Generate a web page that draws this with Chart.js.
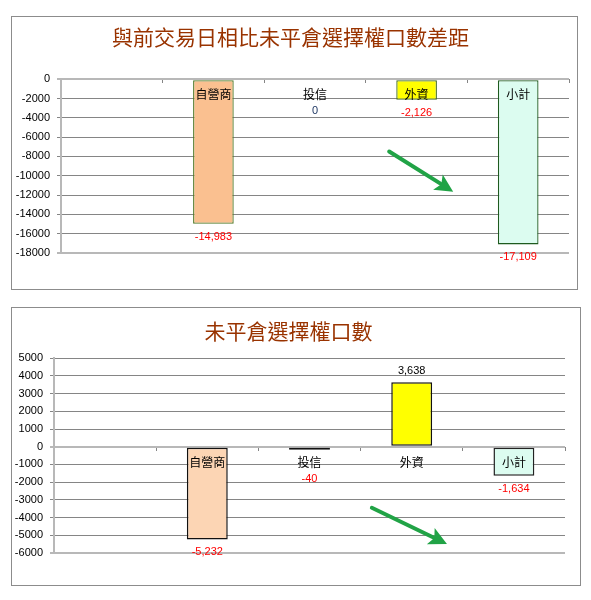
<!DOCTYPE html>
<html>
<head>
<meta charset="utf-8">
<script src="https://cdn.jsdelivr.net/npm/chart.js@4"></script>
<style>
body { margin: 0; background: #fff; }
.box { position: absolute; border: 1px solid #8c8c8c; background: #fff; }
#box1 { left: 11px; top: 16px; width: 565px; height: 272px; }
#box2 { left: 11px; top: 307px; width: 568px; height: 277px; }
</style>
</head>
<body>
<div class="box" id="box1"><canvas id="diffChart"></canvas></div>
<div class="box" id="box2"><canvas id="oiChart"></canvas></div>
<script>
// categories (first slot is blank in the original sheet)
let categories = ['', '自營商', '投信', '外資', '小計'];

// 與前交易日相比未平倉選擇權口數差距
let diffValues = [null, -14983, 0, -2126, -17109];
let diffRange = [-18000, 0, 2000]; // min, max, step

// 未平倉選擇權口數
let oiValues = [null, -5232, -40, 3638, -1634];
let oiRange = [-6000, 5000, 1000];

// red numbers under the bars (black above for positive)
let valueLabels = {
    id: 'valueLabels',
    afterDatasetsDraw(chart) {
        let ctx = chart.ctx;
        let meta = chart.getDatasetMeta(0);
        let values = chart.data.datasets[0].data;
        let zero = chart.scales.y.getPixelForValue(0);
        ctx.save();
        ctx.font = '11px "Liberation Sans", Arial, sans-serif';
        ctx.textAlign = 'center';
        ctx.textBaseline = 'middle';
        meta.data.forEach(function(bar, i) {
            let v = values[i];
            if (v === null) return;
            let y;
            if (v > 0) {
                y = bar.y - 11;
                ctx.fillStyle = '#000';
            } else {
                y = Math.max(bar.y + 13, zero + 32);
                ctx.fillStyle = v < 0 ? '#ff0000' : '#1f3864';
            }
            ctx.fillText(v.toLocaleString('en-US'), bar.x, y);
        });
        ctx.restore();
    }
};

// the green arrow, placed as a fraction of the plot area
function arrowPlugin(from, to) {
    return {
        id: 'arrow',
        afterDraw(chart) {
            let a = chart.chartArea, ctx = chart.ctx;
            let w = a.right - a.left, h = a.bottom - a.top;
            let x1 = a.left + from[0] * w, y1 = a.top + from[1] * h;
            let x2 = a.left + to[0] * w, y2 = a.top + to[1] * h;
            let ang = Math.atan2(y2 - y1, x2 - x1);
            let head = 18, half = 9;
            let bx = x2 - head * Math.cos(ang), by = y2 - head * Math.sin(ang);
            ctx.save();
            ctx.strokeStyle = '#21a346';
            ctx.fillStyle = '#21a346';
            ctx.lineWidth = 4;
            ctx.lineCap = 'round';
            ctx.beginPath();
            ctx.moveTo(x1, y1);
            ctx.lineTo(bx + 3 * Math.cos(ang), by + 3 * Math.sin(ang));
            ctx.stroke();
            ctx.beginPath();
            ctx.moveTo(x2, y2);
            ctx.lineTo(bx + half * Math.sin(ang), by - half * Math.cos(ang));
            ctx.lineTo(bx + 4 * Math.cos(ang), by + 4 * Math.sin(ang));
            ctx.lineTo(bx - half * Math.sin(ang), by + half * Math.cos(ang));
            ctx.closePath();
            ctx.fill();
            ctx.restore();
        }
    };
}

function makeChart(id, s) {
    let range = s.range;
    let lightLine = function(c) {
        return (c.tick.value === range[0] || c.tick.value === 0) ? '#b8b8b8' : '#858585';
    };
    return new Chart(document.getElementById(id), {
        type: 'bar',
        data: {
            labels: categories,
            datasets: [{
                data: s.values,
                backgroundColor: s.fills,
                borderColor: s.borders,
                borderWidth: function(c) { return c.raw === 0 ? 0 : s.edge; },
                borderSkipped: false,
                minBarLength: s.minBar,
                categoryPercentage: 1,
                barPercentage: 0.4
            }]
        },
        options: {
            responsive: true,
            maintainAspectRatio: false,
            animation: false,
            layout: { padding: { left: 0, top: 0, right: s.padRight, bottom: s.padBottom } },
            plugins: {
                legend: { display: false },
                tooltip: { enabled: false },
                title: {
                    display: true,
                    text: s.title,
                    color: '#993300',
                    font: { family: '"Noto Sans CJK TC", serif', size: 21, weight: 'normal' },
                    padding: { top: s.titleTop, bottom: s.titleBottom }
                }
            },
            scales: {
                x: {
                    position: { y: 0 },
                    offset: true,
                    border: { display: false },
                    grid: { offset: true, drawOnChartArea: false, tickLength: 4, color: '#858585' },
                    ticks: {
                        z: 1, // category names sit on top of the bars
                        autoSkip: false,
                        maxRotation: 0,
                        padding: 4,
                        color: '#000',
                        font: { family: '"Noto Sans CJK TC", sans-serif', size: 12 }
                    }
                },
                y: {
                    min: range[0],
                    max: range[1],
                    afterFit: function(scale) { scale.width = s.yWidth; },
                    border: { display: true, color: '#b8b8b8', width: 2 },
                    grid: {
                        color: lightLine,
                        lineWidth: function(c) { return lightLine(c) === '#b8b8b8' ? 2 : 1; },
                        tickLength: 4
                    },
                    ticks: {
                        stepSize: range[2],
                        padding: 7,
                        color: '#000',
                        font: { family: '"Liberation Sans", Arial, sans-serif', size: 11 },
                        callback: function(v) { return String(v); }
                    }
                }
            }
        },
        plugins: [valueLabels, arrowPlugin(s.arrowFrom, s.arrowTo)]
    });
}

makeChart('diffChart', {
    title: '與前交易日相比未平倉選擇權口數差距',
    titleTop: 7,
    titleBottom: 30,
    values: diffValues,
    range: diffRange,
    fills: ['#ffffff', '#fac090', '#ffffff', '#ffff00', '#dcfcf0'],
    borders: ['#4f6228', '#4f7a28', '#4f6228', '#3f6a20', '#1e5a1e'],
    edge: 1.3,
    minBar: 0,
    yWidth: 49,
    padRight: 8,
    padBottom: 36,
    arrowFrom: [0.646, 0.416],
    arrowTo: [0.772, 0.647]
});

makeChart('oiChart', {
    title: '未平倉選擇權口數',
    titleTop: 10,
    titleBottom: 15,
    values: oiValues,
    range: oiRange,
    fills: ['#ffffff', '#fcd5b4', '#000000', '#ffff00', '#dcfcf0'],
    borders: ['#111111', '#111111', '#111111', '#111111', '#222222'],
    edge: 1.5,
    minBar: 3,
    yWidth: 42,
    padRight: 15,
    padBottom: 32,
    arrowFrom: [0.622, 0.768],
    arrowTo: [0.769, 0.954]
});
</script>
</body>
</html>
